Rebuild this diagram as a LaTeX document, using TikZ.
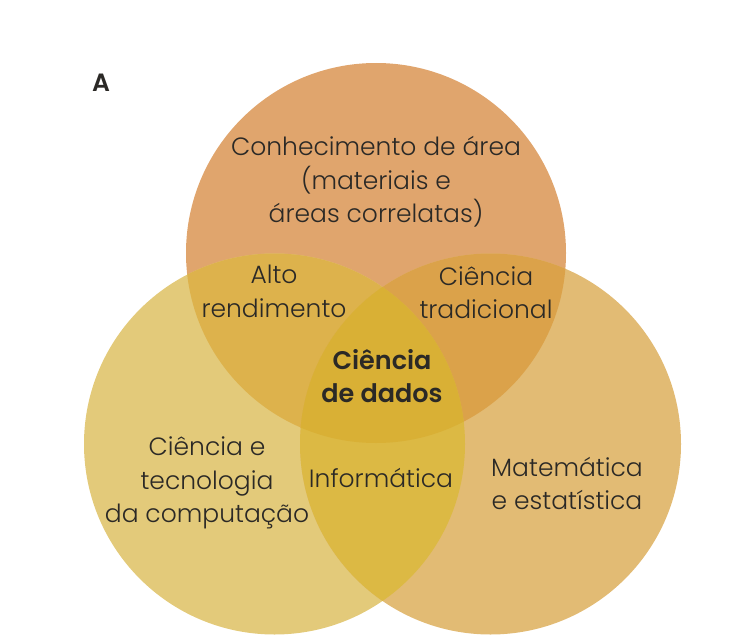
\documentclass[tikz,border=0pt]{standalone}
\usepackage{fontspec}
\setmainfont{Poppins}[UprightFont={* Light},BoldFont={* SemiBold}]
\definecolor{cTop}{HTML}{E0A56D}
\definecolor{cLeft}{HTML}{E3CA7A}
\definecolor{cRight}{HTML}{E2BB74}
\definecolor{cTL}{HTML}{DDB24C}
\definecolor{cTR}{HTML}{DBA24A}
\definecolor{cLR}{HTML}{DCB944}
\definecolor{cAll}{HTML}{D9B035}
\definecolor{ink}{HTML}{2B2926}
\tikzset{
  lbl/.style={text=ink, align=center, font=\fontsize{25}{33.5}\selectfont, inner sep=0pt},
  blbl/.style={lbl, font=\fontsize{25.5}{33.5}\selectfont\bfseries},
}
\begin{document}
\begin{tikzpicture}[x=1pt,y=-1pt]
\useasboundingbox (0,0) rectangle (749,642);
\def\ctop{(376,253) circle (190)}
\def\cleft{(274.5,444) circle (190.5)}
\def\cright{(490.5,444) circle (190.5)}
\fill[cTop] \ctop;
\fill[cLeft] \cleft;
\fill[cRight] \cright;
\begin{scope}
  \clip \ctop;
  \fill[cTL] \cleft;
  \fill[cTR] \cright;
\end{scope}
\begin{scope}
  \clip \cleft;
  \fill[cLR] \cright;
\end{scope}
\begin{scope}
  \clip \ctop;
  \clip \cleft;
  \fill[cAll] \cright;
\end{scope}
\node[blbl, font=\fontsize{25}{30}\selectfont\bfseries] (A) at (101,83) {A};
\node[lbl] (know) at (376,182) {Conhecimento de área\\(materiais e\\áreas correlatas)};
\node[lbl] (alto) at (274,291.5) {Alto\\rendimento};
\node[lbl] (trad) at (486,292.5) {Ciência\\tradicional};
\node[blbl] (ds) at (382,376) {Ciência\\de dados};
\node[lbl] (cc) at (207,483) {Ciência e\\tecnologia\\da computação};
\node[lbl] (inf) at (381,478) {Informática};
\node[lbl] (mat) at (567,483.5) {Matemática\\e estatística};
\end{tikzpicture}
\end{document}
